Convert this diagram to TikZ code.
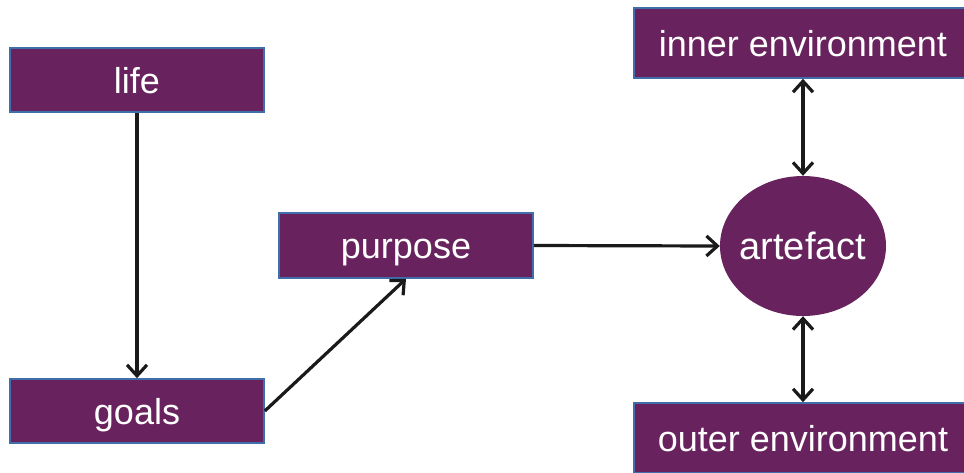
\documentclass[tikz,border=0pt]{standalone}
\usepackage{fontspec}
\setmainfont{Liberation Sans}
\usetikzlibrary{arrows.meta,shapes.geometric}
\definecolor{boxfill}{HTML}{68235E}
\definecolor{boxline}{HTML}{3F6EAA}
\definecolor{arr}{HTML}{1A1A1A}
\tikzset{
  pbox/.style={rectangle, draw=boxline, line width=1.6pt, fill=boxfill, text=white,
    minimum width=254pt, minimum height=64pt, inner sep=0pt,
    text height=26pt, text depth=0pt,
    font=\fontsize{36}{40}\selectfont},
  envbox/.style={pbox, minimum width=338pt, minimum height=70pt},
  artnode/.style={ellipse, fill=boxfill, minimum width=166pt, minimum height=140pt,
    inner sep=0pt},
  arttext/.style={text=white, font=\fontsize{38}{42}\selectfont},
  tip/.style={Straight Barb[length=11pt,width=20pt]},
  conn/.style={draw=arr, line width=3.2pt, -{Straight Barb[length=11pt,width=20pt]}},
  bconn/.style={draw=arr, line width=3.2pt, {Straight Barb[length=11pt,width=20pt]}-{Straight Barb[length=11pt,width=20pt]}}
}
\begin{document}
\begin{tikzpicture}[x=1pt,y=-1pt]
\useasboundingbox (0,0) rectangle (964,472);
\node[pbox] (life) at (137,80) {life};
\node[pbox] (goals) at (137,411) {goals};
\node[pbox, minimum height=65pt] (purpose) at (406,245.5) {purpose};
\node[artnode, label={[arttext]center:artefact}] (art) at (803,246) {};
\node[envbox] (inner) at (803,43) {inner environment};
\node[envbox] (outer) at (803,438) {outer environment};
\draw[conn] (life.south) -- (goals.north);
\draw[conn] (goals.east) -- (purpose.south);
\draw[conn] (purpose.east) -- (art.west);
\draw[bconn] (art.north |- inner.south) -- (art.north);
\draw[bconn] (art.south) -- (art.south |- outer.north);
\end{tikzpicture}
\end{document}
